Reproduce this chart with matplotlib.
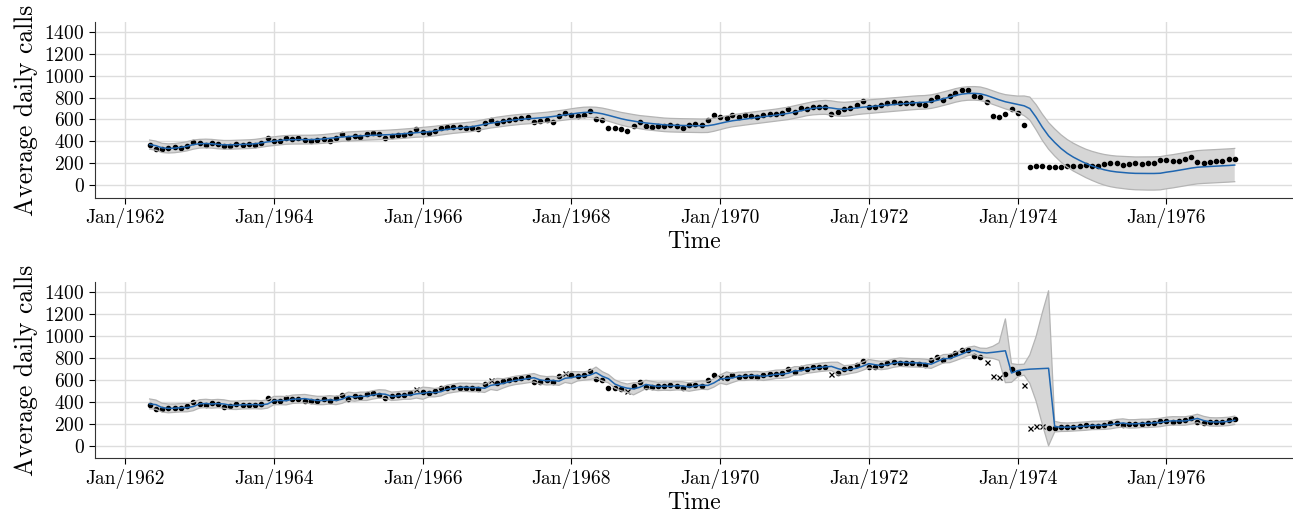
import numpy as np
import pandas as pd
import matplotlib
matplotlib.use('Agg')
import matplotlib.pyplot as plt
import matplotlib.dates as mdates

plt.rcParams['font.family'] = ['cmr10', 'DejaVu Serif']
plt.rcParams['axes.formatter.use_mathtext'] = True
plt.rcParams['mathtext.fontset'] = 'cm'

# average daily calls, May 1962 - Dec 1976
calls = [369, 331, 331, 340, 346, 341, 357, 398,
         381, 367, 383, 375, 353, 361, 375, 371, 373, 366, 382, 429,
         406, 403, 429, 425, 427, 409, 402, 409, 419, 404, 429, 463,
         428, 449, 444, 467, 474, 463, 432, 453, 462, 456, 474, 514,
         489, 475, 492, 525, 527, 533, 527, 522, 526, 513, 564, 599,
         572, 587, 599, 601, 611, 620, 579, 582, 592, 581, 630, 663,
         638, 631, 645, 682, 601, 595, 521, 521, 516, 496, 538, 575,
         537, 534, 542, 538, 547, 540, 526, 548, 555, 545, 594, 643,
         625, 616, 640, 625, 637, 634, 621, 641, 654, 649, 662, 699,
         672, 704, 700, 711, 715, 718, 652, 664, 695, 704, 733, 772,
         716, 712, 732, 755, 761, 748, 748, 750, 744, 731, 782, 810,
         777, 816, 840, 868, 872, 811, 810, 762, 634, 626, 649, 697,
         657, 549, 162, 177, 175, 162, 161, 165, 170, 172, 178, 186,
         178, 178, 189, 205, 202, 185, 193, 200, 196, 204, 206, 227,
         225, 217, 219, 236, 253, 213, 205, 210, 216, 218, 235, 241]

# smooth fit (upper panel) and its half band width
fit_smooth = [370, 360, 340, 335, 338, 345, 355, 370,
              378, 380, 378, 372, 368, 368, 370, 372, 374, 378, 386, 395,
              402, 408, 413, 415, 415, 415, 416, 418, 422, 428, 434, 440,
              444, 447, 450, 453, 455, 457, 459, 462, 466, 470, 475, 480,
              484, 488, 494, 502, 510, 517, 522, 528, 534, 545, 556, 566,
              575, 583, 590, 596, 602, 606, 610, 615, 620, 627, 635, 642,
              650, 658, 664, 666, 662, 652, 638, 622, 607, 595, 585, 576,
              568, 562, 556, 551, 548, 546, 545, 544, 543, 542, 543, 552,
              565, 578, 588, 596, 604, 611, 618, 625, 632, 640, 648, 656,
              668, 680, 692, 702, 708, 711, 705, 696, 693, 698, 706, 712,
              717, 721, 726, 732, 737, 742, 747, 751, 755, 757, 763, 775,
              790, 805, 820, 832, 838, 839, 835, 820, 800, 780, 762, 750,
              738, 725, 700, 620, 530, 450, 390, 335, 290, 255, 225, 198,
              175, 155, 140, 128, 120, 115, 110, 107, 106, 106, 106, 108,
              118, 126, 135, 145, 155, 163, 167, 170, 173, 176, 179, 183]
band_smooth = [42, 42, 42, 42, 42, 42, 42, 42,
               40, 40, 40, 40, 40, 40, 40, 40, 40, 40, 40, 40,
               40, 40, 40, 40, 40, 40, 40, 40, 40, 40, 40, 40,
               42, 42, 42, 42, 42, 42, 42, 42, 42, 42, 42, 42,
               44, 44, 44, 44, 44, 44, 44, 44, 44, 44, 44, 44,
               46, 46, 46, 46, 46, 46, 46, 46, 46, 46, 46, 46,
               48, 48, 48, 48, 50, 52, 54, 56, 58, 60, 60, 60,
               62, 62, 62, 62, 62, 62, 62, 62, 62, 62, 62, 60,
               58, 56, 55, 55, 55, 55, 55, 55, 55, 55, 56, 57,
               58, 58, 58, 60, 62, 64, 65, 65, 64, 63, 62, 62,
               62, 62, 62, 62, 62, 62, 62, 62, 62, 62, 62, 62,
               62, 62, 62, 62, 62, 62, 62, 62, 62, 62, 65, 70,
               76, 90, 105, 115, 120, 122, 124, 125, 126, 127, 128, 130,
               133, 137, 140, 143, 145, 147, 149, 150, 151, 152, 152, 152,
               152, 152, 152, 152, 152, 152, 152, 152, 152, 152, 152, 152]

# one-step predictions of the robust model (lower panel) and half band width
fit_robust = [379, 372, 345, 338, 340, 344, 345, 355,
              379, 383, 378, 382, 378, 367, 366, 371, 372, 373, 370, 378,
              409, 410, 408, 421, 424, 427, 418, 410, 410, 416, 410, 422,
              448, 441, 448, 448, 461, 470, 467, 448, 452, 459, 459, 470,
              476, 485, 481, 490, 512, 522, 530, 530, 527, 528, 521, 548,
              556, 566, 580, 593, 600, 609, 617, 597, 589, 592, 586, 612,
              618, 630, 632, 641, 664, 630, 608, 560, 536, 522, 516, 530,
              556, 545, 538, 541, 539, 544, 542, 532, 542, 550, 547, 570,
              605, 612, 615, 630, 630, 636, 637, 630, 638, 648, 650, 658,
              680, 680, 695, 702, 710, 716, 720, 700, 685, 693, 703, 722,
              745, 735, 728, 735, 750, 758, 755, 752, 752, 748, 740, 765,
              790, 792, 810, 832, 856, 866, 848, 842, 848, 855, 862, 660,
              682, 690, 695, 698, 701, 703, 172, 168, 167, 170, 173, 177,
              183, 184, 185, 190, 200, 205, 197, 198, 202, 202, 206, 210,
              220, 225, 224, 224, 233, 247, 228, 216, 214, 216, 220, 230]
band_robust = [45, 42, 40, 40, 38, 38, 38, 38,
               38, 38, 38, 38, 38, 38, 38, 38, 38, 38, 38, 38,
               38, 38, 38, 38, 38, 38, 38, 38, 38, 38, 38, 38,
               38, 38, 38, 38, 38, 38, 38, 38, 38, 38, 38, 38,
               55, 42, 38, 38, 38, 38, 38, 38, 38, 38, 38, 38,
               55, 42, 38, 38, 38, 38, 38, 38, 38, 38, 38, 38,
               55, 42, 38, 40, 50, 42, 38, 38, 38, 38, 55, 42,
               38, 38, 38, 38, 38, 38, 38, 38, 38, 38, 38, 38,
               38, 58, 42, 38, 38, 38, 38, 38, 38, 38, 38, 38,
               38, 38, 38, 38, 38, 38, 38, 58, 42, 38, 38, 38,
               38, 38, 38, 38, 38, 38, 38, 38, 38, 38, 38, 38,
               38, 38, 38, 38, 38, 38, 38, 42, 55, 80, 290, 85,
               55, 50, 130, 295, 505, 705, 48, 40, 38, 38, 38, 38,
               38, 38, 38, 38, 38, 38, 38, 38, 38, 38, 38, 38,
               38, 38, 38, 38, 38, 38, 38, 38, 38, 38, 38, 38]

# months the robust model drops as outliers
outlier_months = ['1965-12', '1966-12', '1967-12', '1968-10', '1970-01',
                  '1971-07', '1973-08', '1973-09', '1973-10', '1974-02',
                  '1974-03', '1974-04', '1974-05']

dates = pd.date_range('1962-05-01', periods=len(calls), freq='MS')
y = np.array(calls, dtype=float)
is_out = np.isin(dates.strftime('%Y-%m'), outlier_months)


def draw_panel(ax, fit, half, mark_outliers):
    fit = np.array(fit, dtype=float)
    lo = fit - np.array(half, dtype=float)
    hi = fit + np.array(half, dtype=float)
    ax.fill_between(dates, lo, hi, facecolor='#d6d6d6', edgecolor='none', zorder=2)
    if mark_outliers:
        ax.plot(dates[~is_out], y[~is_out], 'o', color='black', ms=3.0, zorder=3)
        ax.plot(dates[is_out], y[is_out], 'x', color='black', ms=3.6, mew=0.9, zorder=3)
    else:
        ax.plot(dates, y, 'o', color='black', ms=3.0, zorder=3)
    ax.plot(dates, lo, color='#b4b4b4', lw=0.9, zorder=4)
    ax.plot(dates, hi, color='#b4b4b4', lw=0.9, zorder=4)
    ax.plot(dates, fit, color='#1f66b0', lw=1.1, zorder=5)

    ax.set_ylim(-115, 1490)
    ax.set_yticks(range(0, 1401, 200))
    ax.set_xlim(pd.Timestamp('1961-08-06'), pd.Timestamp('1977-09-10'))
    ax.xaxis.set_major_locator(mdates.YearLocator(2))
    ax.xaxis.set_major_formatter(mdates.DateFormatter('%b/%Y'))
    ax.grid(True, color='#dddddd', lw=1.0)
    ax.set_axisbelow(True)
    for s in ['top', 'right']:
        ax.spines[s].set_visible(False)
    ax.spines['left'].set_color('#333333')
    ax.spines['bottom'].set_color('#333333')
    ax.tick_params(labelsize=14, length=4, direction='out')
    ax.set_xlabel('Time', fontsize=17, labelpad=2)
    ax.set_ylabel('Average daily calls', fontsize=18.5, labelpad=5)


fig = plt.figure(figsize=(12.93, 5.16), dpi=100)
ax1 = fig.add_axes([0.0735, 0.617, 0.926, 0.34])
ax2 = fig.add_axes([0.0735, 0.112, 0.926, 0.342])

draw_panel(ax1, fit_smooth, band_smooth, False)
draw_panel(ax2, fit_robust, band_robust, True)

fig.savefig('out.png', dpi=100)
